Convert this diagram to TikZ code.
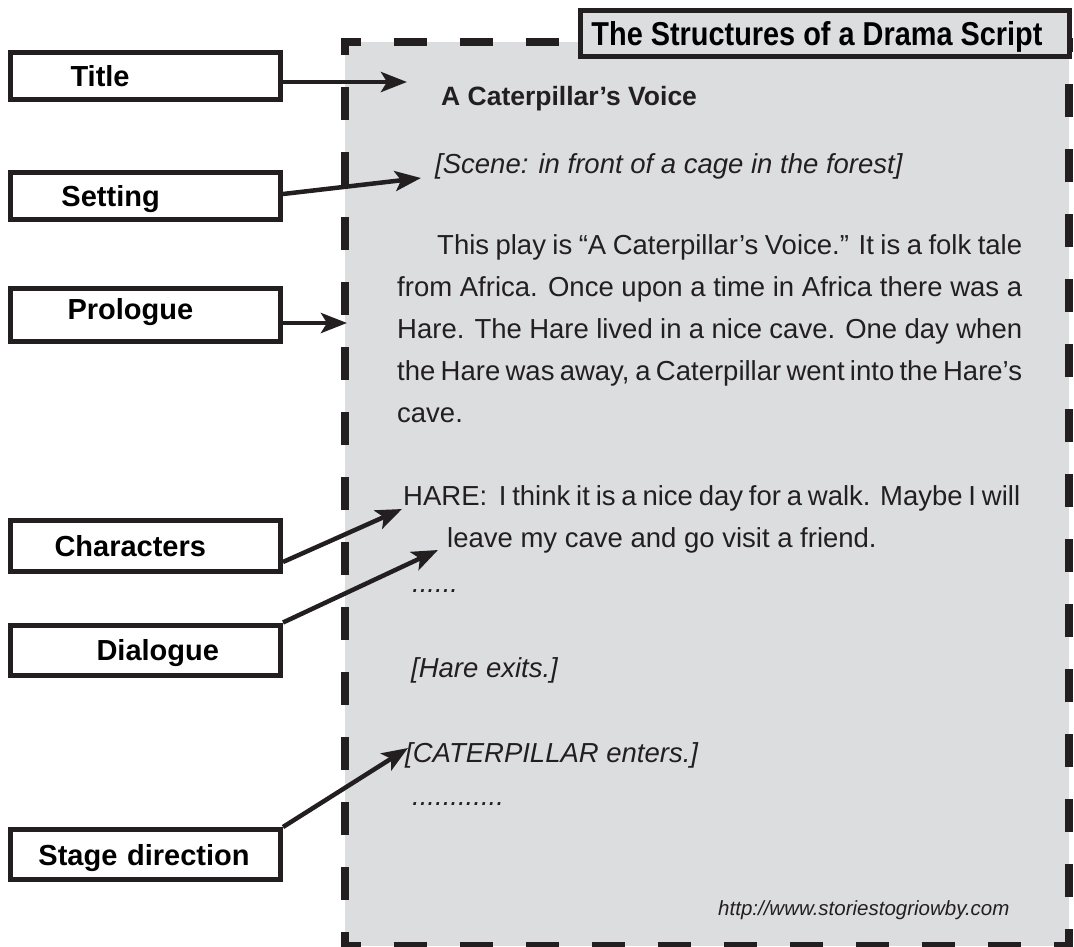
\documentclass[tikz,border=0pt]{standalone}
\usepackage{fontspec}
\usepackage{graphicx}
\setmainfont{Liberation Sans}
\usetikzlibrary{arrows.meta,positioning}
\definecolor{scriptgray}{RGB}{220,221,223}
\definecolor{ink}{RGB}{35,31,32}

\begin{document}
\begin{tikzpicture}[x=1pt,y=-1pt,
  labelbox/.style={draw=ink, line width=5pt, fill=white, inner sep=0pt,
    text width=270pt, minimum height=47pt, text height=21pt, text depth=0pt,
    align=left, font=\fontsize{29}{34}\selectfont\bfseries},
  headbox/.style={draw=ink, line width=5pt, fill=scriptgray, inner sep=0pt,
    minimum width=489pt, minimum height=46pt, text height=24pt, text depth=0pt},
  border/.style={draw=ink, line width=8pt},
  pointer/.style={draw=ink, line width=4.5pt, -{Stealth[length=26pt,width=20pt,inset=6pt]}},
  script/.style={anchor=base west, inner sep=0pt, text=ink, font=\fontsize{27.5}{33}\selectfont},
  direction/.style={script, font=\fontsize{27.5}{33}\selectfont\itshape}]
  \useasboundingbox (0,0) rectangle (1074,946);
  \fill [scriptgray] (345,42) rectangle (1069,946);
  \draw [border, dash pattern=on 33pt off 33pt, dash phase=13pt] (341,42) -- (590,42);
  \draw [border, dash pattern=on 33pt off 32pt, dash phase=16pt] (345,38) -- (345,950);
  \draw [border, dash pattern=on 33pt off 33pt, dash phase=13pt] (341,946) -- (1073,946);
  \draw [border, dash pattern=on 33pt off 32pt, dash phase=12pt] (1069,950) -- (1069,38);
  \node [headbox] (heading) at (825,33)
    {\resizebox{451pt}{24pt}{\bfseries The Structures of a Drama Script}\hspace*{16pt}};

  \node [script, font=\fontsize{26.5}{32}\selectfont\bfseries] (playTitle) at (441,105) {A Caterpillar’s Voice};
  \node [direction] (sceneLine) at (435,173) {[Scene: in front of a cage in the forest]};
  \node [script] (prologueA) at (437,254) {\makebox[585pt][s]{This play is “A Caterpillar’s Voice.” It is a folk tale}};
  \node [script] (prologueB) at (397,296) {\makebox[625pt][s]{from Africa. Once upon a time in Africa there was a}};
  \node [script] (prologueC) at (397,338) {\makebox[625pt][s]{Hare. The Hare lived in a nice cave. One day when}};
  \node [script] (prologueD) at (397,380) {\makebox[625pt][s]{the Hare was away, a Caterpillar went into the Hare’s}};
  \node [script] (prologueE) at (397,422) {cave.};
  \node [script] (hareA) at (403,505) {\makebox[617pt][s]{HARE:\ \ I think it is a nice day for a walk. Maybe I will}};
  \node [script] (hareB) at (447,547) {leave my cave and go visit a friend.};
  \node [direction] (dotsA) at (412,592) {......};
  \node [direction] (exitLine) at (411,677) {[Hare exits.]};
  \node [direction] (enterLine) at (405,762) {[CATERPILLAR enters.]};
  \node [direction] (dotsB) at (412,805) {............};
  \node [direction, font=\fontsize{20.5}{24}\selectfont\itshape] (webLink) at (718,915)
    {http://www.storiestogriowby.com};

  \node [labelbox] (lbTitle) at (145.5,76) {\hspace*{60pt}Title};
  \node [labelbox] (lbSetting) at (145.5,196) {\hspace*{51pt}Setting};
  \node [labelbox, minimum height=53pt] (lbPrologue) at (145.5,315) {\hspace*{57pt}\raisebox{6pt}{Prologue}};
  \node [labelbox, minimum height=51pt] (lbCharacters) at (145.5,546) {\hspace*{44pt}Characters};
  \node [labelbox, minimum height=50pt] (lbDialogue) at (145.5,650) {\hspace*{86pt}Dialogue};
  \node [labelbox, minimum height=50pt] (lbStage) at (145.5,854.5) {\hspace*{28pt}Stage direction};

  \coordinate (titleTip) at (407,82);
  \coordinate (settingTip) at (421,178);
  \coordinate (prologueTip) at (347,323);
  \coordinate (charTip) at (402,509);
  \coordinate (dialogueTip) at (438,550);
  \coordinate (stageTip) at (408,748);
  \draw [pointer] ([yshift=-6pt]lbTitle.east) -- (titleTip);
  \draw [pointer] ([yshift=2pt]lbSetting.east) -- (settingTip);
  \draw [pointer] ([yshift=-8pt]lbPrologue.east) -- (prologueTip);
  \draw [pointer] ([yshift=-16pt]lbCharacters.east) -- (charTip);
  \draw [pointer] (lbDialogue.north east) -- (dialogueTip);
  \draw [pointer] (lbStage.north east) -- (stageTip);
\end{tikzpicture}
\end{document}
